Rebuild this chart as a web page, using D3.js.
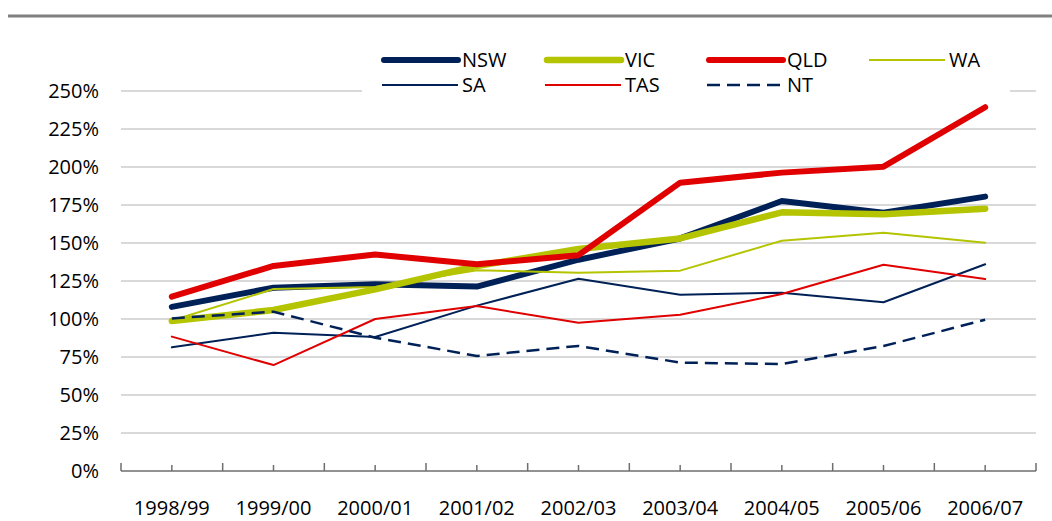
<!DOCTYPE html>
<html>
<head>
<meta charset="utf-8">
<script src="https://cdn.jsdelivr.net/npm/d3@7"></script>
<style>
  html, body { margin: 0; padding: 0; background: #fff; }
  svg { display: block; font-family: "Open Sans", sans-serif; }
</style>
</head>
<body>
<div id="chart"></div>
<script>
// financial years on the category axis
const years = ['1998/99', '1999/00', '2000/01', '2001/02', '2002/03', '2003/04', '2004/05', '2005/06', '2006/07'];

// index values per state, in per cent
const nsw = [108, 120.6, 122.8, 121.3, 139, 153, 177.6, 169.9, 180.5];
const vic = [98.7, 105.9, 119.5, 134.9, 146, 153, 170.2, 168.9, 172.6];
const qld = [114.7, 134.9, 142.5, 136, 142, 189.7, 196.3, 200.2, 239.3];
const wa  = [99, 119.7, 121, 132, 130.5, 131.8, 151.5, 156.8, 150.2];
const sa  = [81.4, 91, 88.2, 108.8, 126.5, 116, 117.3, 111, 136];
const tas = [88.4, 69.7, 100, 108.5, 97.5, 102.8, 116.4, 135.7, 126.3];
const nt  = [100.4, 104.8, 87.7, 75.7, 82.3, 71.3, 70.4, 82.2, 99.5];

const yTicks = [0, 25, 50, 75, 100, 125, 150, 175, 200, 225, 250];

const navy = '#002157',
      olive = '#b5c400',
      red = '#e00000';

// series in drawing order (later ones sit on top)
const series = [
  {name: 'NSW', values: nsw, color: navy,  width: 6,   dash: null},
  {name: 'VIC', values: vic, color: olive, width: 6.5, dash: null},
  {name: 'QLD', values: qld, color: red,   width: 6,   dash: null},
  {name: 'WA',  values: wa,  color: olive, width: 2,   dash: null},
  {name: 'SA',  values: sa,  color: navy,  width: 2,   dash: null},
  {name: 'TAS', values: tas, color: red,   width: 2,   dash: null},
  {name: 'NT',  values: nt,  color: navy,  width: 2.5, dash: '13,7'}
];

const width = 1052, height = 521;

const svg = d3.select('#chart').append('svg')
  .attr('width', width)
  .attr('height', height);

// grey rule across the top
svg.append('line')
  .attr('x1', 8).attr('x2', width)
  .attr('y1', 16).attr('y2', 16)
  .style('stroke', '#808080')
  .style('stroke-width', 3);

const x = d3.scaleBand()
  .domain(years)
  .range([121, 1036])
  .padding(0);

const y = d3.scaleLinear()
  .domain([0, 250])
  .range([471, 91]);

// horizontal gridlines
svg.append('g')
  .selectAll('line')
  .data(yTicks.filter(d => d > 0))
  .enter()
    .append('line')
    .attr('x1', x.range()[0]).attr('x2', x.range()[1])
    .attr('y1', d => y(d)).attr('y2', d => y(d))
    .style('stroke', '#d9d9d9')
    .style('stroke-width', 2);

// y labels
svg.append('g')
  .selectAll('text')
  .data(yTicks)
  .enter()
    .append('text')
    .attr('x', 99)
    .attr('y', d => y(d))
    .attr('dy', '0.36em')
    .attr('text-anchor', 'end')
    .style('font-size', '20px')
    .style('fill', '#000')
    .text(d => d + '%');

// category axis: baseline, tall ticks at band edges, short ticks at centres
const axis = svg.append('g');
axis.append('line')
  .attr('x1', x.range()[0]).attr('x2', x.range()[1])
  .attr('y1', y(0)).attr('y2', y(0))
  .style('stroke', '#6e6e6e')
  .style('stroke-width', 1.5);

const edges = years.map(d => x(d)).concat([x.range()[1]]);
axis.selectAll('.major')
  .data(edges)
  .enter()
    .append('line')
    .attr('class', 'major')
    .attr('x1', d => d).attr('x2', d => d)
    .attr('y1', y(0)).attr('y2', y(0) - 8)
    .style('stroke', '#6e6e6e')
    .style('stroke-width', 1.5);

axis.selectAll('.minor')
  .data(years)
  .enter()
    .append('line')
    .attr('class', 'minor')
    .attr('x1', d => x(d) + x.bandwidth() / 2).attr('x2', d => x(d) + x.bandwidth() / 2)
    .attr('y1', y(0)).attr('y2', y(0) - 6)
    .style('stroke', '#6e6e6e')
    .style('stroke-width', 1.5);

axis.selectAll('.label')
  .data(years)
  .enter()
    .append('text')
    .attr('class', 'label')
    .attr('x', d => x(d) + x.bandwidth() / 2)
    .attr('y', 515)
    .attr('text-anchor', 'middle')
    .style('font-size', '20px')
    .style('fill', '#000')
    .text(d => d);

// legend box sits over the top gridline
const legend = svg.append('g');
legend.append('rect')
  .attr('x', 362).attr('y', 44)
  .attr('width', 648).attr('height', 56)
  .style('fill', '#fff');

const legendCols = [381, 544, 706, 868],
      legendRows = [60, 85];

const items = legend.selectAll('.item')
  .data(series)
  .enter()
    .append('g')
    .attr('class', 'item')
    .attr('transform', (d, i) => `translate(${legendCols[i % 4]},${legendRows[Math.floor(i / 4)]})`);

items.append('line')
  .attr('x1', d => d.width > 3 ? 3 : 1)
  .attr('x2', d => d.width > 3 ? 77 : 77)
  .attr('y1', 0).attr('y2', 0)
  .style('stroke', d => d.color)
  .style('stroke-width', d => d.width)
  .style('stroke-linecap', d => d.width > 3 ? 'round' : 'butt')
  .style('stroke-dasharray', d => d.dash);

items.append('text')
  .attr('x', 81)
  .attr('y', 0)
  .attr('dy', '0.36em')
  .style('font-size', '20px')
  .style('fill', '#000')
  .text(d => d.name);

// the lines themselves
const line = d3.line()
  .x((d, i) => x(years[i]) + x.bandwidth() / 2)
  .y(d => y(d));

svg.append('g')
  .selectAll('path')
  .data(series)
  .enter()
    .append('path')
    .attr('d', d => line(d.values))
    .style('fill', 'none')
    .style('stroke', d => d.color)
    .style('stroke-width', d => d.width)
    .style('stroke-linejoin', 'round')
    .style('stroke-linecap', d => d.dash ? 'butt' : 'round')
    .style('stroke-dasharray', d => d.dash);
</script>
</body>
</html>
